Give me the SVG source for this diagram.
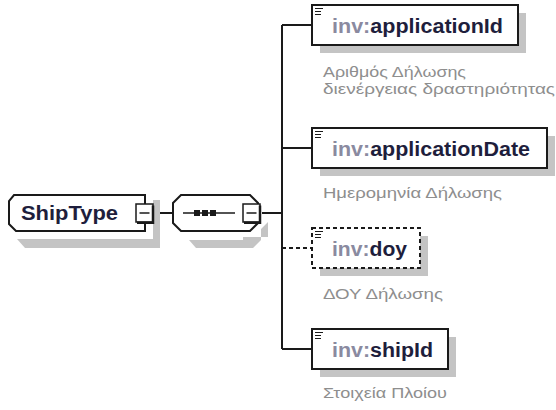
<svg xmlns="http://www.w3.org/2000/svg" width="556" height="410" viewBox="0 0 556 410">
<style>
.box{fill:#fff;stroke:#1a1a1a;stroke-width:2}
.dbox{fill:#fff;stroke:#1a1a1a;stroke-width:2;stroke-dasharray:4 3}
.sh{fill:#c4c4c4}
.ln{stroke:#1a1a1a;stroke-width:2;fill:none}
.dln{stroke:#1a1a1a;stroke-width:2;fill:none;stroke-dasharray:4 3}
.ns{fill:#8a8aa0}
.nm{fill:#1e1e3c}
.lbl{font-family:"Liberation Sans",Arial,sans-serif;font-weight:bold;font-size:20px}
.desc{font-family:"Liberation Sans",Arial,sans-serif;font-size:15px;fill:#8e8e8e}
.ic{stroke:#1a1a1a;stroke-width:1.2}
</style>
<defs>
<g id="icon"><path class="ic" d="M0 0.5H8M0 3.5H6M0 6.5H6"/></g>
<g id="btn"><rect x="0" y="0" width="17" height="18" fill="#fff" stroke="#1a1a1a" stroke-width="1.5"/><path d="M17 1.5V18.8H1" fill="none" stroke="#1a1a1a" stroke-width="2.5"/><path d="M3.5 9H13.5" stroke="#1a1a1a" stroke-width="1.5"/></g>
</defs>
<g id="connectors">
<path class="ln" d="M155 213H173"/>
<path class="ln" d="M262 213H282"/>
<path class="ln" d="M282 25V349"/>
<path class="ln" d="M282 25H312"/>
<path class="ln" d="M282 148H312"/>
<path class="dln" d="M282 248H312"/>
<path class="ln" d="M282 349H312"/>
</g>
<g id="ShipType">
<path class="sh" d="M17 239H153V200H160V248H25Z"/>
<path class="box" d="M14 195H145V231H16L9 224V201Z"/>
<text class="lbl nm" x="21" y="220" textLength="97" lengthAdjust="spacingAndGlyphs">ShipType</text>
<use href="#btn" x="136" y="204"/>
</g>
<g id="sequence">
<path class="sh" d="M189 240H243V237H268V222L261 229V240L253 248H196Z"/>
<path class="box" d="M181 195H250L258 203V223L250 231H181L173 223V203Z"/>
<path d="M183 213H235" stroke="#1a1a1a" stroke-width="1.5"/>
<rect x="194" y="210" width="6" height="6" fill="#1a1a1a"/>
<rect x="202" y="210" width="6" height="6" fill="#1a1a1a"/>
<rect x="210" y="210" width="6" height="6" fill="#1a1a1a"/>
<use href="#btn" x="243" y="204"/>
</g>
<g id="applicationId">
<rect class="sh" x="320" y="13" width="206" height="40"/>
<rect class="box" x="312" y="5" width="206" height="40"/>
<use href="#icon" x="315" y="8"/>
<text class="lbl" x="332" y="33" textLength="171" lengthAdjust="spacingAndGlyphs"><tspan class="ns">inv:</tspan><tspan class="nm">applicationId</tspan></text>
<text class="desc" x="323" y="77" textLength="143" lengthAdjust="spacingAndGlyphs">Αριθμός Δήλωσης</text>
<text class="desc" x="323" y="94" textLength="232" lengthAdjust="spacingAndGlyphs">διενέργειας δραστηριότητας</text>
</g>
<g id="applicationDate">
<rect class="sh" x="320" y="136" width="235" height="40"/>
<rect class="box" x="312" y="128" width="235" height="40"/>
<use href="#icon" x="315" y="131"/>
<text class="lbl" x="332" y="156" textLength="198" lengthAdjust="spacingAndGlyphs"><tspan class="ns">inv:</tspan><tspan class="nm">applicationDate</tspan></text>
<text class="desc" x="323" y="198" textLength="179" lengthAdjust="spacingAndGlyphs">Ημερομηνία Δήλωσης</text>
</g>
<g id="doy">
<rect class="sh" x="320" y="236" width="108" height="40"/>
<rect class="dbox" x="312" y="228" width="108" height="40"/>
<use href="#icon" x="315" y="231"/>
<text class="lbl" x="332" y="256" textLength="75" lengthAdjust="spacingAndGlyphs"><tspan class="ns">inv:</tspan><tspan class="nm">doy</tspan></text>
<text class="desc" x="323" y="299" textLength="120" lengthAdjust="spacingAndGlyphs">ΔΟΥ Δήλωσης</text>
</g>
<g id="shipId">
<rect class="sh" x="320" y="337" width="136" height="40"/>
<rect class="box" x="312" y="329" width="136" height="40"/>
<use href="#icon" x="315" y="332"/>
<text class="lbl" x="332" y="357" textLength="101" lengthAdjust="spacingAndGlyphs"><tspan class="ns">inv:</tspan><tspan class="nm">shipId</tspan></text>
<text class="desc" x="323" y="398" textLength="124" lengthAdjust="spacingAndGlyphs">Στοιχεία Πλοίου</text>
</g>
</svg>
